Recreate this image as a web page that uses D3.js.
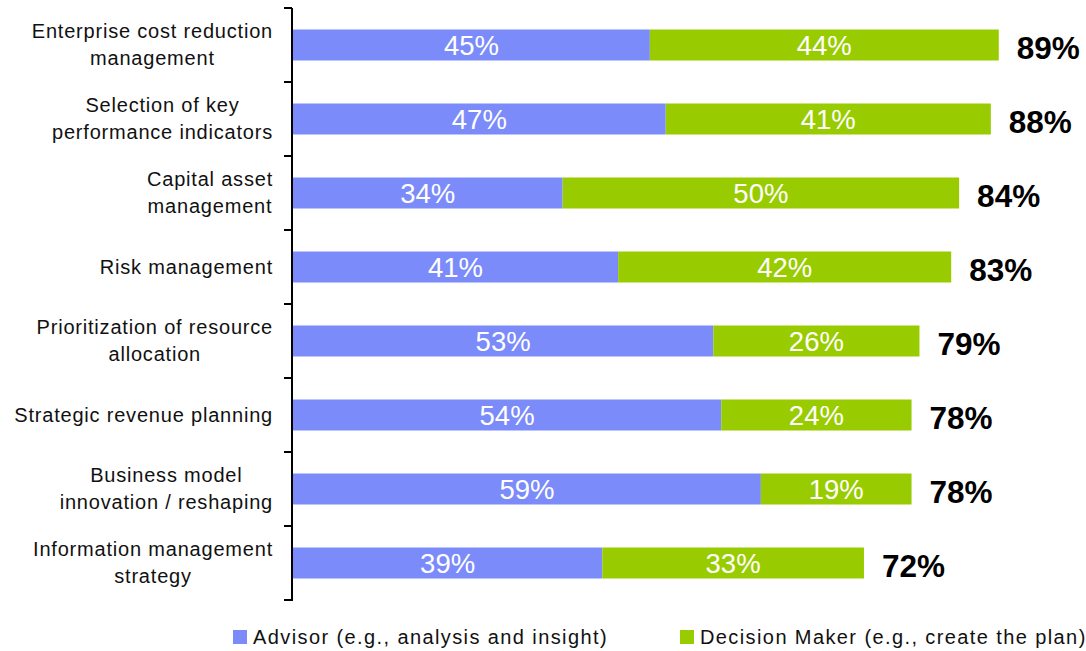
<!DOCTYPE html>
<html>
<head>
<meta charset="utf-8">
<script src="https://cdn.jsdelivr.net/npm/d3@7"></script>
<style>
  html, body { margin: 0; padding: 0; background: #fff; }
  svg { display: block; font-family: "Liberation Sans", Arial, sans-serif; }
</style>
</head>
<body>
<svg id="chart" width="1086" height="651"></svg>
<script>
const categories = [
  ["Enterprise cost reduction", "management"],
  ["Selection of key", "performance indicators"],
  ["Capital asset", "management"],
  ["Risk management"],
  ["Prioritization of resource", "allocation"],
  ["Strategic revenue planning"],
  ["Business model", "innovation / reshaping"],
  ["Information management", "strategy"]
];
const advisor = [45, 47, 34, 41, 53, 54, 59, 39];
const decisionMaker = [44, 41, 50, 42, 26, 24, 19, 33];
const totals = [89, 88, 84, 83, 79, 78, 78, 72];
const seriesNames = ["Advisor (e.g., analysis and insight)", "Decision Maker (e.g., create the plan)"];
const colors = ["#7b8bfa", "#99cc00"];

const svg = d3.select("#chart");
const keys = categories.map((c, i) => i);

const x = d3.scaleLinear().domain([0, 100]).range([293, 1086]);
const y = d3.scaleBand().domain(keys).range([8, 600]).padding(0);
const barH = 31;

// bars
const rows = svg.append("g").selectAll("g").data(keys).join("g");
rows.append("rect")
  .attr("x", x(0))
  .attr("y", i => y(i) + y.bandwidth() / 2 - barH / 2)
  .attr("width", i => x(advisor[i]) - x(0))
  .attr("height", barH)
  .attr("fill", colors[0]);
rows.append("rect")
  .attr("x", i => x(advisor[i]))
  .attr("y", i => y(i) + y.bandwidth() / 2 - barH / 2)
  .attr("width", i => x(advisor[i] + decisionMaker[i]) - x(advisor[i]))
  .attr("height", barH)
  .attr("fill", colors[1]);

// inner labels
rows.append("text")
  .attr("x", i => (x(0) + x(advisor[i])) / 2)
  .attr("y", i => y(i) + y.bandwidth() / 2 + 10)
  .attr("text-anchor", "middle")
  .attr("fill", "#fff")
  .attr("font-size", 27.5)
  .text(i => advisor[i] + "%");
rows.append("text")
  .attr("x", i => (x(advisor[i]) + x(advisor[i] + decisionMaker[i])) / 2)
  .attr("y", i => y(i) + y.bandwidth() / 2 + 10)
  .attr("text-anchor", "middle")
  .attr("fill", "#fff")
  .attr("font-size", 27.5)
  .text(i => decisionMaker[i] + "%");

// totals
rows.append("text")
  .attr("x", i => x(advisor[i] + decisionMaker[i]) + 18)
  .attr("y", i => y(i) + y.bandwidth() / 2 + 13.5)
  .attr("fill", "#000")
  .attr("font-size", 31.5)
  .attr("font-weight", "bold")
  .text(i => totals[i] + "%");

// axis
const axisX = 292;
const axis = svg.append("g");
axis.append("line")
  .attr("x1", axisX).attr("x2", axisX)
  .attr("y1", y.range()[0]).attr("y2", y.range()[1] + 1)
  .attr("stroke", "#000").attr("stroke-width", 2);
const tickYs = keys.map(i => y(i)).concat([y(keys[keys.length - 1]) + y.bandwidth()]);
axis.selectAll("line.tick").data(tickYs).join("line")
  .attr("class", "tick")
  .attr("x1", axisX - 8).attr("x2", axisX)
  .attr("y1", d => d).attr("y2", d => d)
  .attr("stroke", "#000").attr("stroke-width", 2);

// category labels: block right-aligned at 273, lines centered within block
const labelRight = 273;
const lineH = 27;
rows.each(function(i) {
  const g = d3.select(this);
  const lines = categories[i];
  const cy = y(i) + y.bandwidth() / 2;
  const t = g.append("g");
  const texts = lines.map((ln, k) => t.append("text")
    .attr("font-size", 20)
    .attr("letter-spacing", "0.8px")
    .attr("fill", "#111")
    .attr("text-anchor", "middle")
    .attr("y", cy + 6.5 + (k - (lines.length - 1) / 2) * lineH)
    .text(ln));
  const widths = texts.map(tx => tx.node().getComputedTextLength());
  const maxW = d3.max(widths);
  texts.forEach(tx => tx.attr("x", labelRight - maxW / 2));
});

// legend
const legend = svg.append("g");
const legendX = [233, 680];
seriesNames.forEach((name, k) => {
  legend.append("rect")
    .attr("x", legendX[k]).attr("y", 630)
    .attr("width", 14).attr("height", 14)
    .attr("fill", colors[k]);
  legend.append("text")
    .attr("x", legendX[k] + 20).attr("y", 644)
    .attr("font-size", 20)
    .attr("letter-spacing", "1.4px")
    .attr("fill", "#111")
    .text(name);
});
</script>
</body>
</html>
